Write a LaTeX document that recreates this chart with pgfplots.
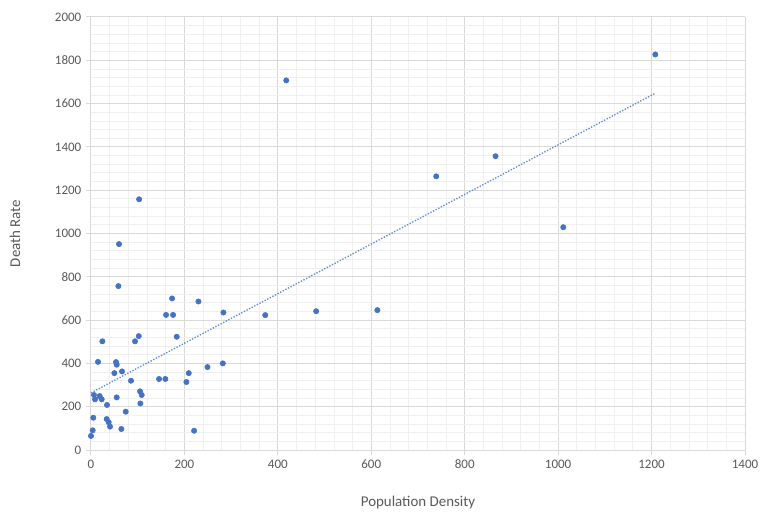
\documentclass[border=0pt]{standalone}
\usepackage{fontspec}
\setmainfont{Carlito}
\usepackage{pgfplots}
\pgfplotsset{compat=1.18}
\definecolor{pts}{HTML}{4472C4}
\definecolor{txt}{HTML}{595959}
\definecolor{majg}{HTML}{D9D9D9}
\definecolor{ming}{HTML}{EFEFEF}
\begin{document}
\begin{tikzpicture}
\useasboundingbox (-68.25pt,-51.75pt) rectangle (507.75pt,337.5pt);
\begin{axis}[
  at={(0pt,0pt)}, anchor=south west,
  scale only axis, width=490.5pt, height=324.75pt,
  xmin=0, xmax=1400, ymin=0, ymax=2000,
  xtick distance=200, ytick distance=200,
  minor tick num=4,
  grid=both,
  major grid style={majg, line width=0.75pt},
  minor grid style={ming, line width=0.6pt},
  axis lines=left,
  axis line style={-, majg, line width=0.75pt},
  tick align=outside,
  major tick length=3.75pt, minor tick length=0pt,
  tick style={majg, line width=0.75pt},
  ticklabel style={font=\fontsize{9.75}{11}\selectfont, text=txt},
  /pgf/number format/assume math mode=true,
  /pgf/number format/1000 sep={},
  xlabel={Population Density}, ylabel={Death Rate},
  label style={font=\fontsize{11.2}{13}\selectfont, text=txt},
  xlabel style={at={(axis description cs:0.5,0)}, anchor=center, yshift=-39.75pt},
  ylabel style={at={(axis description cs:0,0.5)}, anchor=center, rotate=0, yshift=57pt},
  clip=false,
]
\addplot[pts!85, line width=1pt, dash pattern=on 1pt off 1.2pt] coordinates {(0,264) (1208,1648)};
\addplot[only marks, mark=*, mark size=2pt, mark options={fill=pts, draw=pts}] coordinates {
(1208,1827) (418,1707) (866,1357) (739,1264) (1011,1029) (613,646) (482,641) (373,623)
(103,1158) (60,951) (58.6,757) (173.6,700) (230,686) (160.7,624) (175.7,624) (283.5,635)
(24.3,502) (94.3,502) (102.2,526) (183.5,523) (15,407) (53.6,406) (55,394) (66.4,363)
(50,355) (85.7,320) (145.7,328) (159.2,328) (209.3,355) (249.3,383) (282.2,400) (204.2,314)
(105,271) (108.6,254) (105.7,215) (6.4,254) (18.6,249) (8.6,234) (22.9,234) (55,243)
(34.3,208) (74.3,177) (33.6,143) (37.9,128) (40.7,108) (65,97) (4.9,149) (3.6,91)
(0,65) (220.7,89)
};
\end{axis}
\end{tikzpicture}
\end{document}
